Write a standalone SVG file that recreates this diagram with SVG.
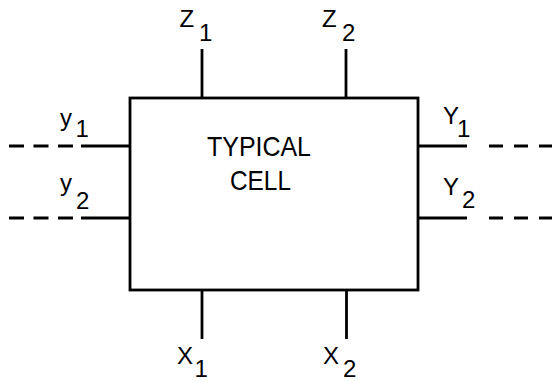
<svg xmlns="http://www.w3.org/2000/svg" width="552" height="381" viewBox="0 0 552 381">
<style>
.ln{stroke:#000;stroke-width:2.8;fill:none}
.dl{stroke:#000;stroke-width:2.8;fill:none;stroke-dasharray:15 9.5}
.dr{stroke:#000;stroke-width:2.8;fill:none;stroke-dasharray:14 11}
.lb{font-family:"Liberation Sans",Arial,sans-serif;font-size:24px;fill:#000}
.ct{font-family:"Liberation Sans",Arial,sans-serif;font-size:28px;fill:#000}
</style>
<rect width="552" height="381" fill="#fff"/>
<g id="cell">
<rect class="ln" x="130" y="98" width="288" height="192"/>
<text class="ct" x="207" y="156" textLength="104" lengthAdjust="spacingAndGlyphs">TYPICAL</text>
<text class="ct" x="230" y="190" textLength="61" lengthAdjust="spacingAndGlyphs">CELL</text>
</g>
<g id="connectors">
<line class="ln" x1="202" y1="49" x2="202" y2="98"/>
<line class="ln" x1="346" y1="49" x2="346" y2="98"/>
<line class="ln" x1="202" y1="290" x2="202" y2="339"/>
<line class="ln" x1="346.5" y1="290" x2="346.5" y2="339"/>
<line class="ln" x1="81" y1="146" x2="130" y2="146"/>
<line class="ln" x1="81" y1="218" x2="130" y2="218"/>
<line class="dl" x1="9" y1="146" x2="73" y2="146"/>
<line class="dl" x1="9" y1="218" x2="73" y2="218"/>
<line class="ln" x1="418" y1="146" x2="467" y2="146"/>
<line class="ln" x1="418" y1="218" x2="467" y2="218"/>
<line class="dr" x1="489" y1="146" x2="552" y2="146"/>
<line class="dr" x1="489" y1="218" x2="552" y2="218"/>
</g>
<g id="z1"><text class="lb" x="179.5" y="27">Z</text><text class="lb" x="199" y="41">1</text></g>
<g id="z2"><text class="lb" x="322" y="27">Z</text><text class="lb" x="342" y="41">2</text></g>
<g id="y1"><text class="lb" x="60" y="126">y</text><text class="lb" x="75.5" y="137">1</text></g>
<g id="y2"><text class="lb" x="60" y="191">y</text><text class="lb" x="76" y="209">2</text></g>
<g id="Y1"><text class="lb" x="443" y="124">Y</text><text class="lb" x="457" y="137">1</text></g>
<g id="Y2"><text class="lb" x="443" y="195">Y</text><text class="lb" x="462" y="208">2</text></g>
<g id="x1"><text class="lb" x="177" y="364">X</text><text class="lb" x="194.5" y="376.5">1</text></g>
<g id="x2"><text class="lb" x="323" y="364">X</text><text class="lb" x="343" y="376.5">2</text></g>
</svg>
